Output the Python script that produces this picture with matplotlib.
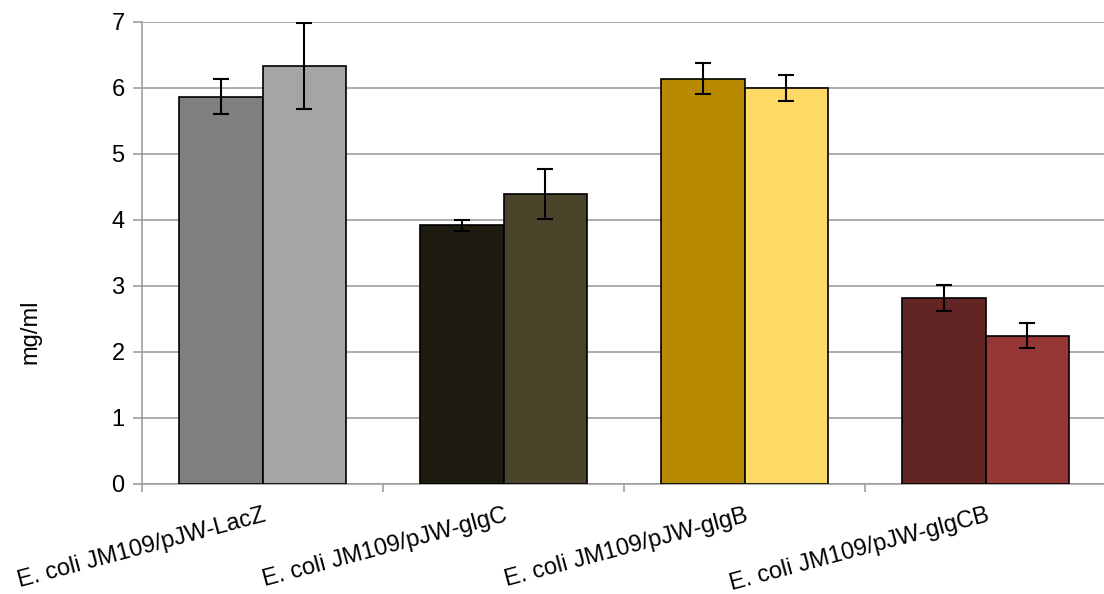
import matplotlib
matplotlib.use("Agg")
import matplotlib.pyplot as plt
import numpy as np

plt.rcParams['font.family'] = ['Liberation Sans', 'DejaVu Sans']

categories = ["E. coli JM109/pJW-LacZ", "E. coli JM109/pJW-glgC",
              "E. coli JM109/pJW-glgB", "E. coli JM109/pJW-glgCB"]
first_values = [5.87, 3.92, 6.14, 2.82]
first_errors = [0.26, 0.08, 0.235, 0.20]
second_values = [6.33, 4.40, 6.00, 2.25]
second_errors = [0.65, 0.38, 0.20, 0.195]
first_colors = ["#7F7F7F", "#1E1B11", "#B88A00", "#632523"]
second_colors = ["#A5A5A5", "#4A442B", "#FFD966", "#953735"]
y_ticks = [0, 1, 2, 3, 4, 5, 6, 7]

W, H = 1104, 594
fig = plt.figure(figsize=(W / 100, H / 100), dpi=100)
ax = fig.add_axes([142 / W, 110 / H, 964 / W, 462 / H])

x = np.arange(len(categories))
width = 0.347
err_kw = dict(ecolor="black", elinewidth=1.5, capsize=5.5, capthick=1.5)
ax.bar(x - width / 2, first_values, width, color=first_colors, edgecolor="black",
       linewidth=1.2, yerr=first_errors, error_kw=err_kw, zorder=3)
ax.bar(x + width / 2, second_values, width, color=second_colors, edgecolor="black",
       linewidth=1.2, yerr=second_errors, error_kw=err_kw, zorder=3)

ax.set_xlim(-0.5, len(categories) - 0.5)
ax.set_ylim(0, 7)
ax.set_yticks(y_ticks)
ax.set_yticklabels([str(v) for v in y_ticks], fontsize=17)
ax.yaxis.grid(True, color="#A0A0A0", linewidth=1.2, zorder=0)
ax.set_axisbelow(True)

# category boundaries carry the tick marks, centres carry the labels
ax.set_xticks(np.arange(len(categories)) - 0.5)
ax.set_xticklabels([])
ax.set_xticks(x, minor=True)
ax.set_xticklabels(categories, minor=True, fontsize=17, rotation=15,
                   ha="right", rotation_mode="anchor")
ax.tick_params(axis="x", which="major", length=6, color="#A0A0A0", width=1.2)
ax.tick_params(axis="x", which="minor", length=0, pad=15)
ax.tick_params(axis="y", length=6.5, color="#A0A0A0", width=1.2, pad=6)

for side in ["top", "right"]:
    ax.spines[side].set_visible(False)
for side in ["left", "bottom"]:
    ax.spines[side].set_color("#A0A0A0")
    ax.spines[side].set_linewidth(1.2)

fig.text(30 / W, 1 - 332 / H, "mg/ml", rotation=90, ha="center", va="center",
         fontsize=17)

fig.savefig("out.png", dpi=100)
